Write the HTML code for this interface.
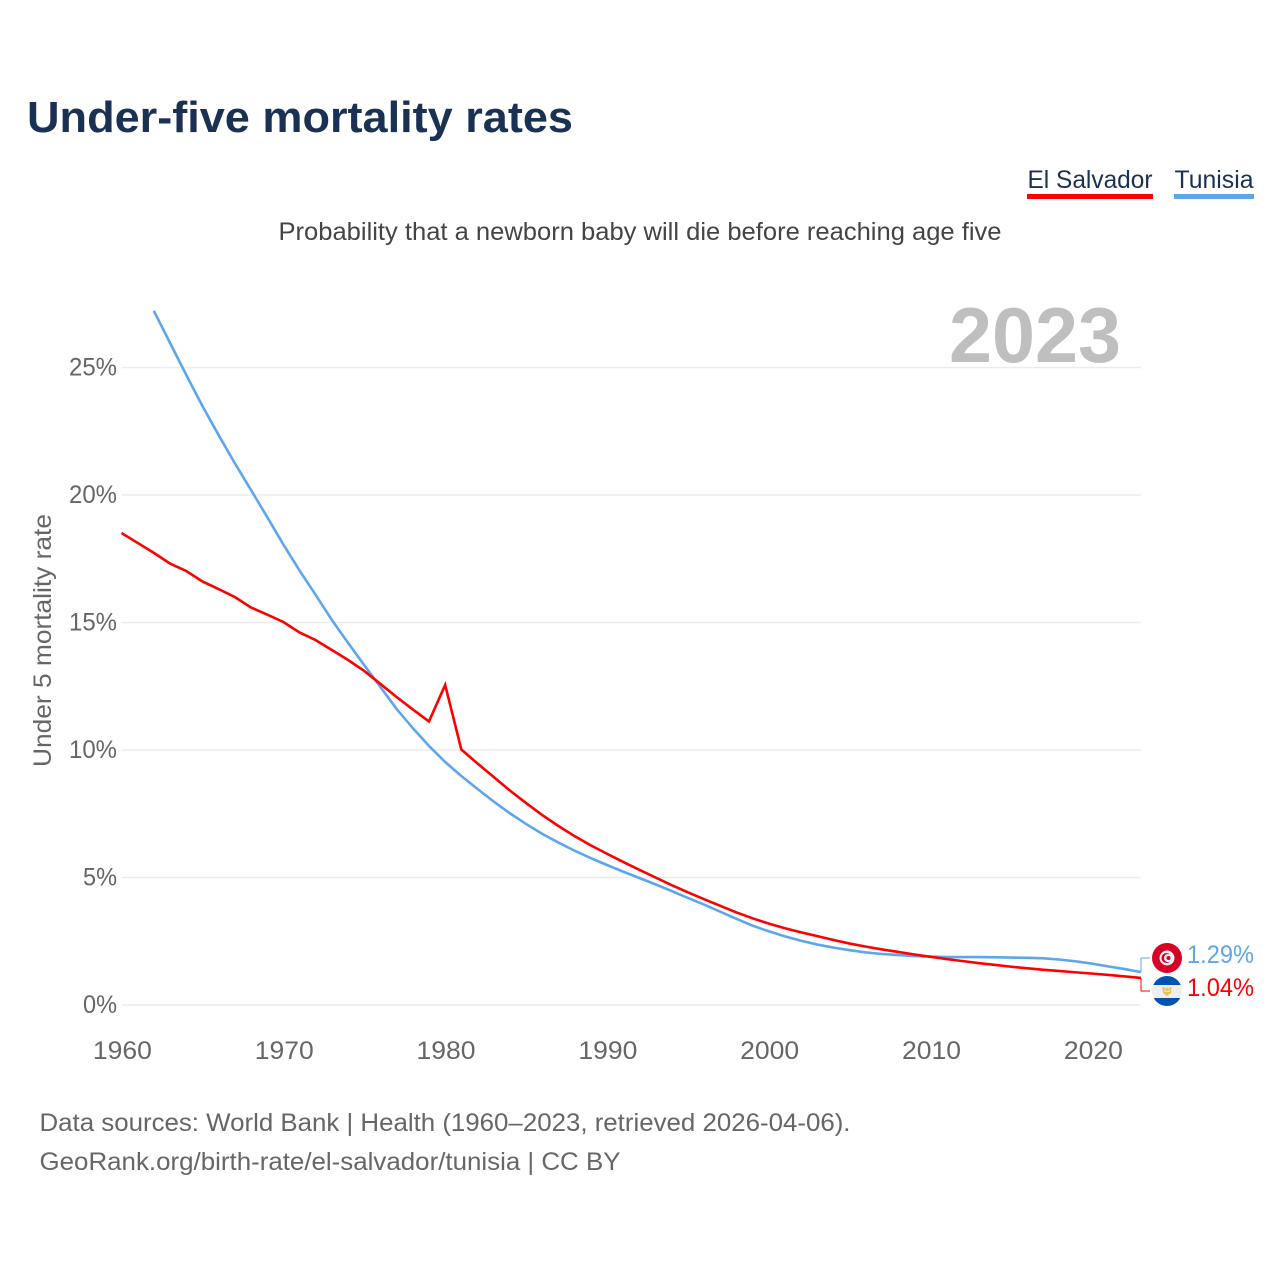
<!DOCTYPE html>
<html lang="en">
<head>
<meta charset="utf-8">
<title>Under-five mortality rates</title>
<style>
  html, body { margin: 0; padding: 0; background: #fff; }
  svg { display: block; font-family: "Liberation Sans", "DejaVu Sans", sans-serif; }
</style>
</head>
<body>
<svg id="chart" xmlns="http://www.w3.org/2000/svg" width="1280" height="1280" viewBox="0 0 1280 1280">
  <rect x="0" y="0" width="1280" height="1280" fill="#ffffff"/>
  <text x="27" y="132" font-size="44" font-weight="700" fill="#1b3153" textLength="546" lengthAdjust="spacingAndGlyphs">Under-five mortality rates</text>

  <g>
    <g>
      <text x="1027.5" y="188" font-size="25" fill="#1b3153" textLength="125" lengthAdjust="spacingAndGlyphs">El Salvador</text>
      <rect x="1027" y="194" width="126" height="5" fill="#ff0000"/>
    </g>
    <g>
      <text x="1174.5" y="188" font-size="25" fill="#1b3153" textLength="79" lengthAdjust="spacingAndGlyphs">Tunisia</text>
      <rect x="1174" y="194" width="80" height="5" fill="#5ea6ec"/>
    </g>
  </g>

  <text x="278.5" y="240" font-size="25" fill="#444444" textLength="723" lengthAdjust="spacingAndGlyphs">Probability that a newborn baby will die before reaching age five</text>

  <text x="949" y="362" font-size="78" font-weight="700" fill="#bfbfbf" textLength="172" lengthAdjust="spacingAndGlyphs">2023</text>

  <g id="grid"></g>
  <g id="yticks"></g>
  <g id="xticks"></g>

  <text transform="translate(51,767) rotate(-90)" x="0" y="0" font-size="25" fill="#666666" textLength="253" lengthAdjust="spacingAndGlyphs">Under 5 mortality rate</text>

  <g id="series"></g>

  <g id="connectors"></g>

  <g>
    <circle cx="1167" cy="958" r="15" fill="#d80027"/>
    <circle cx="1167" cy="958" r="7.5" fill="#f2f2f2"/>
    <circle cx="1166.5" cy="958" r="5" fill="#d80027"/>
    <circle cx="1168" cy="958" r="4" fill="#f2f2f2"/>
    <circle cx="1168.5" cy="958" r="2" fill="#d80027"/>
  </g>
  <g>
    <clipPath id="sv-clip"><circle cx="1167" cy="991" r="15"/></clipPath>
    <g clip-path="url(#sv-clip)">
      <rect x="1152" y="976" width="30" height="9" fill="#0052b4"/>
      <rect x="1152" y="985" width="30" height="13" fill="#eeeeee"/>
      <rect x="1152" y="998" width="30" height="8" fill="#0052b4"/>
    </g>
    <path d="M1162.5 987 L1164.5 987 L1164.5 992 L1169.5 992 L1169.5 987 L1171.5 987 L1171 993 L1167 996 L1163 993 Z" fill="#e8c04a"/>
    <circle cx="1167" cy="989.5" r="2" fill="#d9c97a"/>
  </g>

  <text x="1187" y="963" font-size="25" fill="#5ea6ec" textLength="67" lengthAdjust="spacingAndGlyphs">1.29%</text>
  <text x="1187" y="996" font-size="25" fill="#ff0000" textLength="67" lengthAdjust="spacingAndGlyphs">1.04%</text>

  <text x="39.5" y="1131" font-size="25" fill="#666666" textLength="811" lengthAdjust="spacingAndGlyphs">Data sources: World Bank | Health (1960–2023, retrieved 2026-04-06).</text>
  <text x="39.5" y="1170" font-size="25" fill="#666666" textLength="581" lengthAdjust="spacingAndGlyphs">GeoRank.org/birth-rate/el-salvador/tunisia | CC BY</text>
</svg>

<script>
const startYear = 1960;
const endYear = 2023;
const xTickYears = [1960, 1970, 1980, 1990, 2000, 2010, 2020];
const yTickValues = [0, 5, 10, 15, 20, 25];

const elSalvadorYears = [1960,1961,1962,1963,1964,1965,1966,1967,1968,1969,1970,1971,1972,1973,1974,1975,1976,1977,1978,1979,1980,1981,1982,1983,1984,1985,1986,1987,1988,1989,1990,1991,1992,1993,1994,1995,1996,1997,1998,1999,2000,2001,2002,2003,2004,2005,2006,2007,2008,2009,2010,2011,2012,2013,2014,2015,2016,2017,2018,2019,2020,2021,2022,2023];
const elSalvadorValues = [18.51,18.12,17.73,17.31,17.02,16.61,16.31,16.00,15.59,15.31,15.02,14.61,14.31,13.92,13.53,13.10,12.59,12.08,11.59,11.12,12.55,10.02,9.47,8.94,8.41,7.92,7.45,7.02,6.62,6.26,5.93,5.61,5.30,5.00,4.70,4.42,4.15,3.89,3.63,3.40,3.19,3.01,2.85,2.70,2.55,2.41,2.29,2.18,2.08,1.98,1.89,1.80,1.72,1.64,1.57,1.50,1.44,1.38,1.33,1.28,1.23,1.18,1.12,1.06];

const tunisiaYears = [1962,1963,1964,1965,1966,1967,1968,1969,1970,1971,1972,1973,1974,1975,1976,1977,1978,1979,1980,1981,1982,1983,1984,1985,1986,1987,1988,1989,1990,1991,1992,1993,1994,1995,1996,1997,1998,1999,2000,2001,2002,2003,2004,2005,2006,2007,2008,2009,2010,2011,2012,2013,2014,2015,2016,2017,2018,2019,2020,2021,2022,2023];
const tunisiaValues = [27.22,25.96,24.71,23.49,22.35,21.25,20.20,19.14,18.06,17.04,16.08,15.10,14.20,13.33,12.47,11.61,10.86,10.16,9.53,8.98,8.47,7.98,7.52,7.10,6.71,6.37,6.05,5.76,5.49,5.23,4.98,4.73,4.47,4.20,3.94,3.66,3.38,3.11,2.89,2.69,2.52,2.37,2.25,2.15,2.06,2.00,1.96,1.92,1.90,1.88,1.88,1.88,1.87,1.86,1.85,1.83,1.78,1.71,1.62,1.51,1.41,1.29];

const plotLeft = 121.5;
const plotRight = 1141;
const plotBottom = 1005;
const pxPerPercent = 25.5;
const svgNS = 'http://www.w3.org/2000/svg';

function xScale(year) {
  return plotLeft + (year - startYear) * (plotRight - plotLeft) / (endYear - startYear);
}
function yScale(value) {
  return plotBottom - value * pxPerPercent;
}
function make(tag, attrs, parent) {
  const el = document.createElementNS(svgNS, tag);
  Object.keys(attrs).forEach(function (k) { el.setAttribute(k, attrs[k]); });
  parent.appendChild(el);
  return el;
}

const grid = document.getElementById('grid');
const yticks = document.getElementById('yticks');
const xticks = document.getElementById('xticks');
const series = document.getElementById('series');
const connectors = document.getElementById('connectors');

yTickValues.forEach(function (v) {
  const line = make('line', { x1: plotLeft, x2: plotRight, y1: yScale(v), y2: yScale(v), stroke: '#ececec', 'stroke-width': 1.5 }, grid);
  
  
  const label = v + '%';
  const t = make('text', { x: 117, y: yScale(v) + 8, 'text-anchor': 'end', 'font-size': 25, fill: '#666666', textLength: label.length === 3 ? 48 : 34, lengthAdjust: 'spacingAndGlyphs' }, yticks);
  t.textContent = label;
  
  
});

xTickYears.forEach(function (yr) {
  const t = make('text', { x: xScale(yr) + 0.9, y: 1059, 'text-anchor': 'middle', 'font-size': 25, fill: '#666666', textLength: 59, lengthAdjust: 'spacingAndGlyphs' }, xticks);
  t.textContent = String(yr);
  
  
});

function linePath(years, values) {
  return years.map(function (yr, i) {
    return (i === 0 ? 'M' : 'L') + xScale(yr).toFixed(2) + ' ' + yScale(values[i]).toFixed(2);
  }).join(' ');
}

const tunisiaLine = make('path', { d: linePath(tunisiaYears, tunisiaValues), fill: 'none', stroke: '#5ea6ec', 'stroke-width': 2.6, 'stroke-linejoin': 'round' }, series);



const salvadorLine = make('path', { d: linePath(elSalvadorYears, elSalvadorValues), fill: 'none', stroke: '#ff0000', 'stroke-width': 2.6, 'stroke-linejoin': 'miter' }, series);



const tunisiaEnd = yScale(tunisiaValues[tunisiaValues.length - 1]);
const salvadorEnd = yScale(elSalvadorValues[elSalvadorValues.length - 1]);

const tunisiaConnector = make('path', { d: 'M' + plotRight + ' ' + tunisiaEnd + ' V958 H1150', fill: 'none', stroke: '#5ea6ec', 'stroke-width': 1 }, connectors);



const salvadorConnector = make('path', { d: 'M' + plotRight + ' ' + salvadorEnd + ' V991 H1150', fill: 'none', stroke: '#ff0000', 'stroke-width': 1 }, connectors);


</script>
</body>
</html>
